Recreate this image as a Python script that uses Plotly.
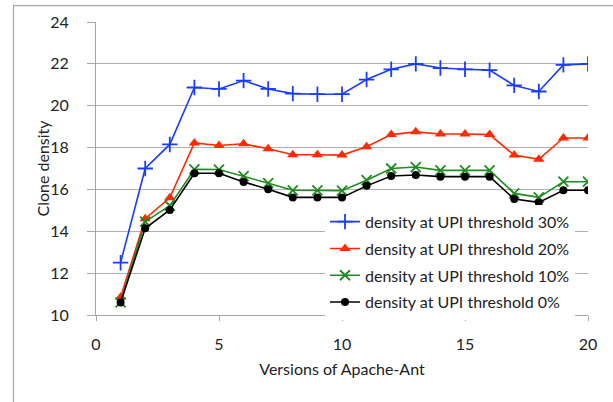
import plotly.graph_objects as go

versions = list(range(1, 21))
density_30 = [12.5, 17.0, 18.15, 20.87, 20.8, 21.2, 20.8, 20.58, 20.55, 20.55,
              21.25, 21.74, 22.0, 21.8, 21.74, 21.7, 20.97, 20.68, 21.95, 22.0]
density_20 = [10.85, 14.6, 15.6, 18.22, 18.1, 18.18, 17.94, 17.66, 17.66, 17.64,
              18.04, 18.62, 18.75, 18.65, 18.65, 18.62, 17.64, 17.44, 18.46, 18.46]
density_10 = [10.6, 14.46, 15.22, 16.96, 16.95, 16.64, 16.3, 15.96, 15.96, 15.94,
              16.44, 17.0, 17.07, 16.91, 16.91, 16.91, 15.81, 15.62, 16.37, 16.37]
density_0 = [10.6, 14.14, 15.02, 16.77, 16.77, 16.36, 16.01, 15.62, 15.62, 15.62,
             16.17, 16.64, 16.69, 16.61, 16.61, 16.61, 15.54, 15.38, 15.96, 15.96]

series_names = ["density at UPI threshold 30%", "density at UPI threshold 20%",
                "density at UPI threshold 10%", "density at UPI threshold 0%"]

FONT = "Lato"
FS = 16
TXT = "#222222"
fig = go.Figure()

styles = [
    (density_30, "#1a3cff", dict(symbol="cross-thin", size=11, line=dict(width=1.8, color="#1a3cff"))),
    (density_20, "#ff2a00", dict(symbol="triangle-up", size=10, color="#ff2a00")),
    (density_10, "#1e8c1e", dict(symbol="x-thin", size=10, line=dict(width=1.8, color="#1e8c1e"))),
    (density_0, "#000000", dict(symbol="circle", size=8, color="#000000")),
]
for name, (vals, col, mk) in zip(series_names, styles):
    fig.add_trace(go.Scatter(x=versions, y=vals, mode="lines+markers", name=name,
                             line=dict(color=col, width=1.6), marker=mk,
                             legendgroup=name))

L, R, T, B = 96, 25, 20, 87
W, H = 613, 402
pw, ph = W - L - R, H - T - B

def px_x(p):
    return (p - L) / pw

def px_y(p):
    return (H - B - p) / ph

fig.update_layout(
    width=W, height=H,
    margin=dict(l=L, r=R, t=T, b=B),
    paper_bgcolor="white", plot_bgcolor="white",
    font=dict(family=FONT, size=FS, color=TXT),
    showlegend=True,
    legend=dict(x=px_x(325), y=px_y(204), xanchor="left", yanchor="top",
                bgcolor="white", borderwidth=0, traceorder="grouped",
                tracegroupgap=3, font=dict(family=FONT, size=FS, color=TXT),
                itemwidth=30),
    xaxis=dict(range=[0, 20], tickvals=[0, 5, 10, 15, 20], showgrid=False,
               zeroline=False, showline=True, linecolor="#a6a6a6", linewidth=1.2,
               ticks="outside", ticklen=5, tickcolor="#a6a6a6",
               ticklabelstandoff=10,
               title=dict(text="Versions of Apache-Ant", standoff=11,
                          font=dict(family=FONT, size=FS, color=TXT))),
    yaxis=dict(range=[10, 24], tickvals=[10, 12, 14, 16, 18, 20, 22, 24],
               showgrid=True, gridcolor="#b0b0b0", gridwidth=1.3,
               zeroline=False, showline=True, linecolor="#a6a6a6", linewidth=1.2,
               ticks="outside", ticklen=8, tickcolor="#a6a6a6",
               ticklabelstandoff=15),
    annotations=[dict(text="Clone density", xref="paper", yref="paper",
                      x=px_x(42), y=0.5, xanchor="center", yanchor="middle",
                      textangle=-90, showarrow=False,
                      font=dict(family=FONT, size=FS, color=TXT))],
    shapes=[dict(type="rect", xref="paper", yref="paper",
                 x0=px_x(13.5), x1=px_x(630), y0=px_y(420), y1=px_y(3.5),
                 line=dict(color="#a6a6a6", width=1.2), fillcolor="rgba(0,0,0,0)",
                 layer="below")],
)

fig.write_html("out.html")
